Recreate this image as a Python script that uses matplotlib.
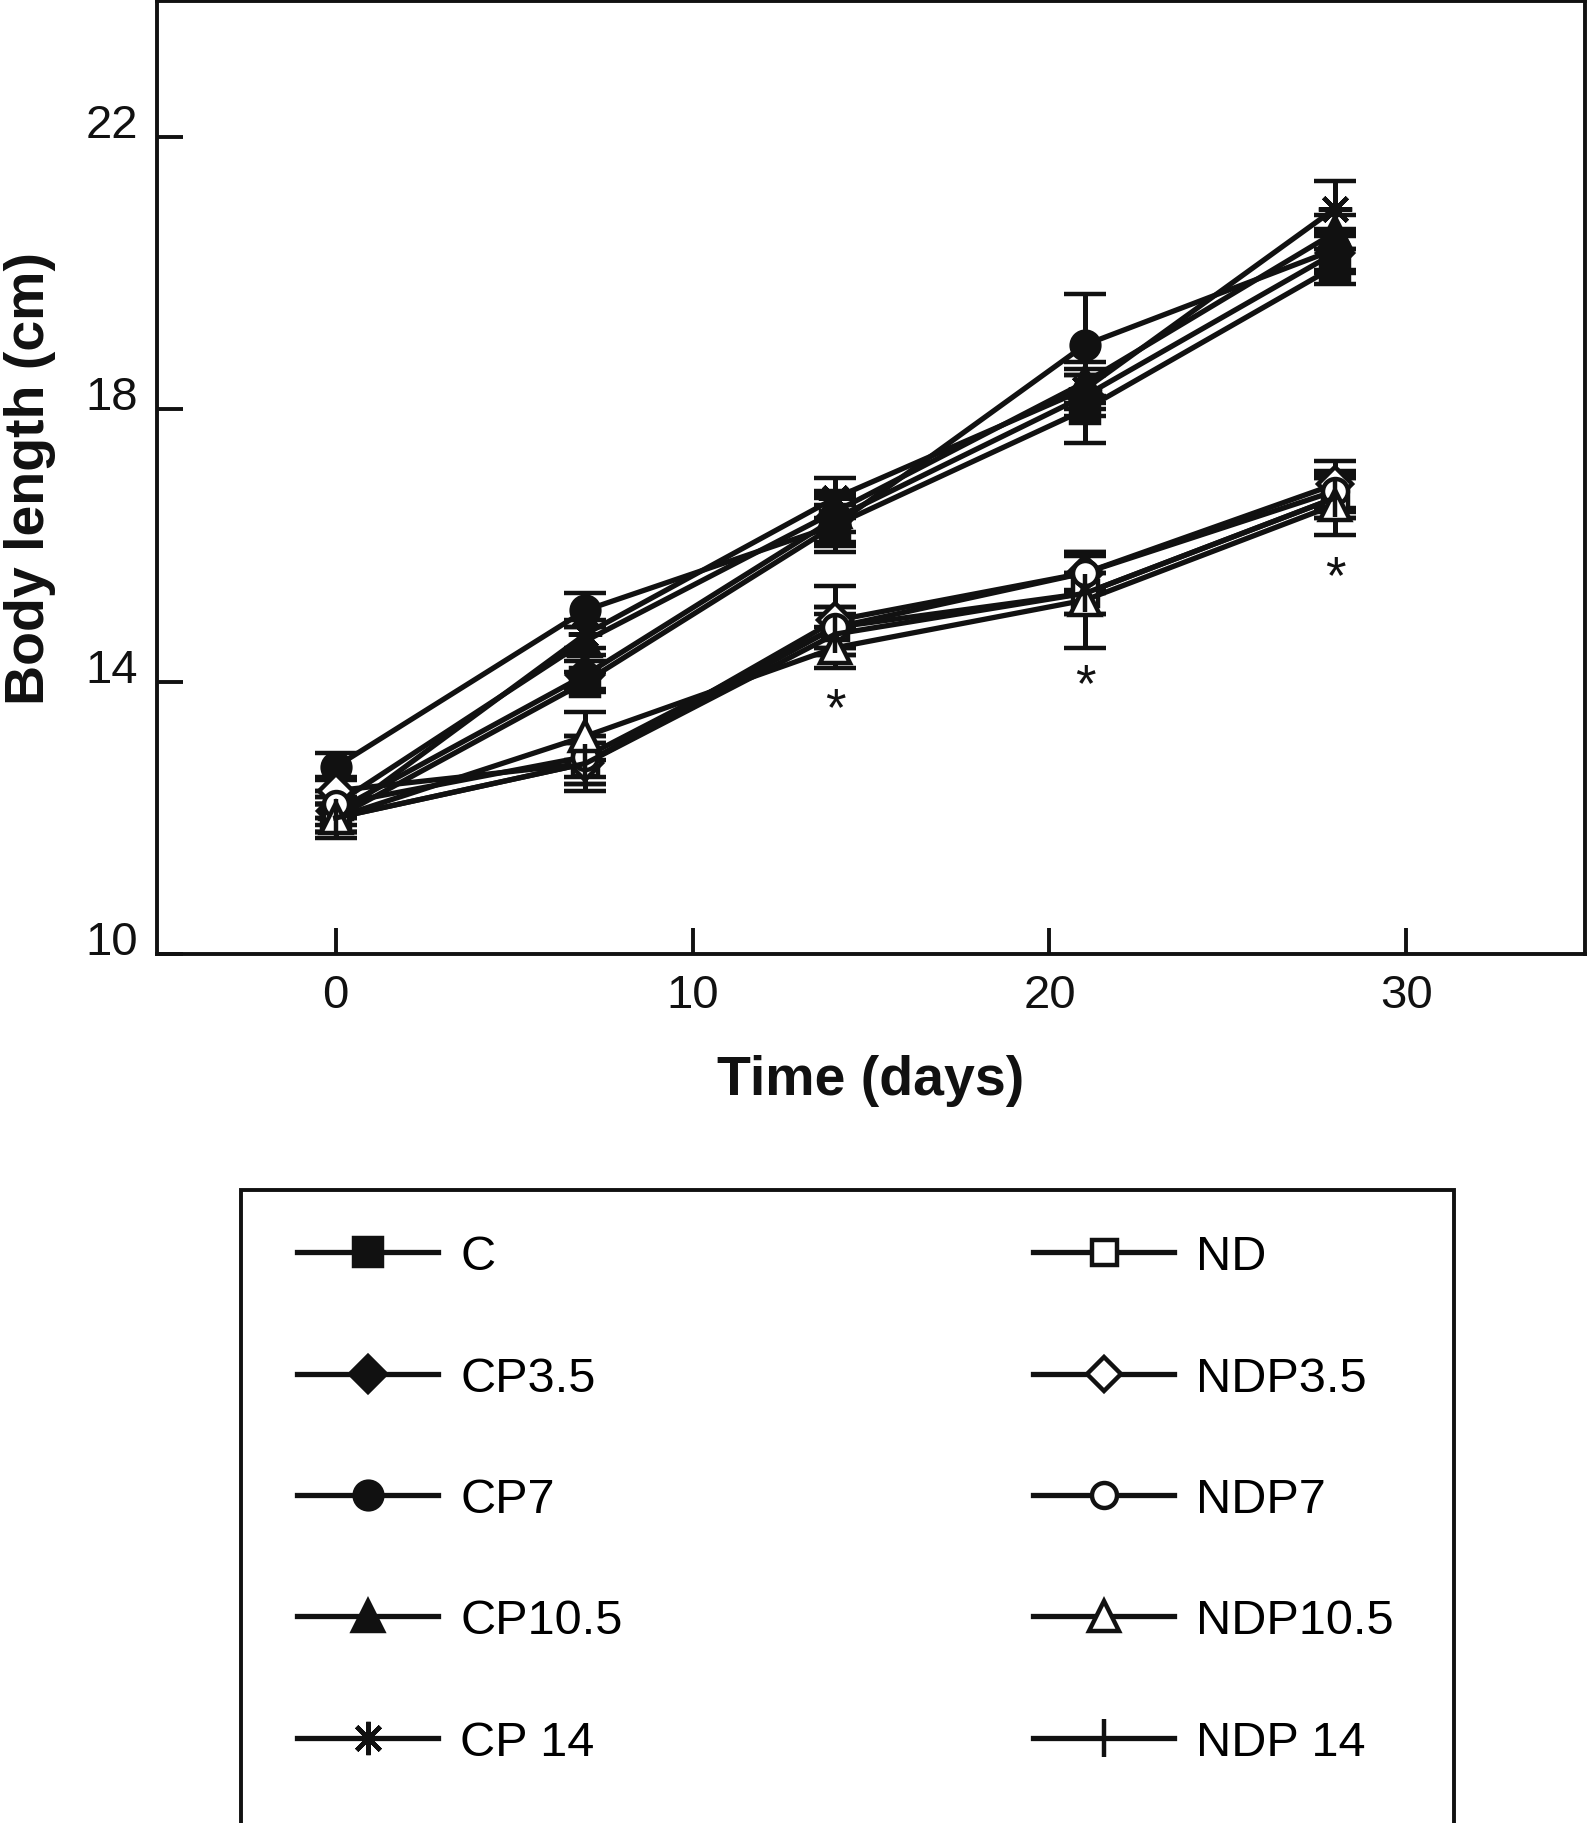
import numpy as np
import matplotlib
matplotlib.use("Agg")
import matplotlib.pyplot as plt
from matplotlib.patches import Rectangle

plt.rcParams['font.family'] = ['Liberation Sans', 'DejaVu Sans']

# days sampled
days = [0, 7, 14, 21, 28]

# body length (cm), means
c_mean = [12.0, 14.0, 16.3, 18.0, 20.1]
cp35_mean = [12.1, 14.1, 16.4, 18.2, 20.3]
cp7_mean = [12.75, 15.05, 16.3, 18.95, 20.35]
cp105_mean = [12.2, 14.6, 16.5, 18.4, 20.6]
cp14_mean = [12.0, 14.7, 16.7, 18.3, 20.95]
nd_mean = [12.0, 12.8, 14.8, 15.3, 16.7]
ndp35_mean = [12.4, 12.8, 14.9, 15.6, 16.9]
ndp7_mean = [12.2, 12.9, 14.8, 15.6, 16.8]
ndp105_mean = [12.0, 13.2, 14.5, 15.2, 16.6]
ndp14_mean = [12.0, 12.8, 14.7, 15.3, 16.7]

# error bars
c_err = [0.3, 0.15, 0.3, 0.5, 0.25]
cp35_err = [0.2, 0.2, 0.35, 0.3, 0.3]
cp7_err = [0.2, 0.25, 0.4, 0.75, 0.3]
cp105_err = [0.2, 0.2, 0.3, 0.3, 0.25]
cp14_err = [0.2, 0.2, 0.3, 0.3, 0.4]
nd_err = [0.2, 0.3, 0.3, 0.3, 0.3]
ndp35_err = [0.2, 0.3, 0.5, 0.25, 0.35]
ndp7_err = [0.2, 0.3, 0.3, 0.3, 0.3]
ndp105_err = [0.2, 0.35, 0.3, 0.7, 0.45]
ndp14_err = [0.2, 0.4, 0.3, 0.3, 0.3]

labels = ['C', 'CP3.5', 'CP7', 'CP10.5', 'CP 14',
          'ND', 'NDP3.5', 'NDP7', 'NDP10.5', 'NDP 14']

# significance marks
sig_days = [14, 21, 28]
sig_y = [13.58, 13.93, 15.53]

means = [c_mean, cp35_mean, cp7_mean, cp105_mean, cp14_mean,
         nd_mean, ndp35_mean, ndp7_mean, ndp105_mean, ndp14_mean]
errs = [c_err, cp35_err, cp7_err, cp105_err, cp14_err,
        nd_err, ndp35_err, ndp7_err, ndp105_err, ndp14_err]
markers = ['s', 'D', 'o', '^', (8, 2, 0), 's', 'D', 'o', '^', '|']
filled = [True] * 5 + [False] * 5
sizes = [20, 18, 20, 22, 24, 18, 17, 18, 21, 28]

fig = plt.figure(figsize=(15.88, 18.24), dpi=100)
ax = fig.add_axes([0.099, 0.4764, 0.899, 0.5225])

k = '#111111'
handles = []
for m, e, mk, f, s, lab in zip(means, errs, markers, filled, sizes, labels):
    h = ax.errorbar(days, m, yerr=e, color=k, lw=3.8, marker=mk, ms=s,
                    mfc=k if f else 'white', mec=k, mew=3.2,
                    capsize=15, capthick=4, elinewidth=3.6, label=lab)
    handles.append(h[0])

for d, y in zip(sig_days, sig_y):
    ax.text(d, y, '*', ha='center', va='center', fontsize=38, color=k)

ax.set_xlim(-5, 35)
ax.set_ylim(10, 24)
ax.set_xticks([0, 10, 20, 30])
ax.set_yticks([10, 14, 18, 22])
ax.tick_params(direction='in', length=19, width=2.8, labelsize=34, pad=14, colors=k)
for t in ax.get_yticklabels():
    t.set_va('baseline')
for sp in ax.spines.values():
    sp.set_linewidth(2.8)
    sp.set_color(k)

ax.set_xlabel('Time (days)', fontsize=40, fontweight='bold', color=k)
ax.set_ylabel('Body length (cm)', fontsize=40, fontweight='bold', color=k)
ax.xaxis.set_label_coords(0.5, -0.105)
ax.yaxis.set_label_coords(-0.071, 0.5)

# legend box below the plot
fig.patches.append(Rectangle((0.152, -0.01), 0.7636, 0.357, transform=fig.transFigure,
                             fill=False, lw=2.8, edgecolor=k))
fig.legend(handles, labels, loc='upper left', bbox_to_anchor=(0.172, 0.336),
           ncol=2, frameon=False, fontsize=35, handlelength=2.9,
           handletextpad=0.45, labelspacing=1.57, columnspacing=8.45, borderpad=0)

fig.savefig('out.png', dpi=100)
